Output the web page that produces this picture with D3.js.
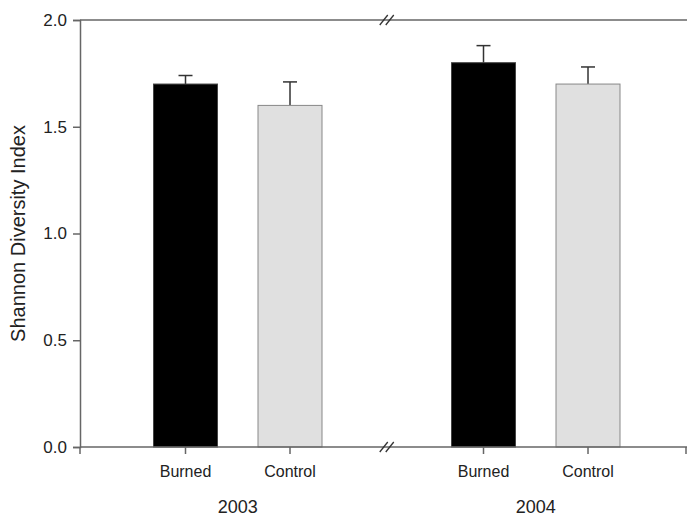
<!DOCTYPE html>
<html>
<head>
<meta charset="utf-8">
<script src="https://cdn.jsdelivr.net/npm/d3@7"></script>
<style>
  body { margin: 0; background: #fff; }
  text { font-family: "Liberation Sans", Arial, sans-serif; fill: #222; }
</style>
</head>
<body>
<svg id="chart" width="687" height="517"></svg>
<script>
const years = ['2003', '2004'];
const treatments = ['Burned', 'Control'];
const means = [[1.70, 1.60], [1.80, 1.70]];
const errors = [[0.04, 0.11], [0.08, 0.08]];
const yTicks = [0, 0.5, 1.0, 1.5, 2.0];

const rows = [];
years.forEach((y, i) => treatments.forEach((t, j) =>
  rows.push({ year: y, treatment: t, mean: means[i][j], err: errors[i][j] })));

const svg = d3.select('#chart');
const plotLeft = 80, plotRight = 687, plotTop = 20, plotBottom = 447;
const axisColor = '#666';

const yScale = d3.scaleLinear().domain([0, 2]).range([plotBottom, plotTop]);

const yearScale = d3.scaleBand().domain(years).range([plotLeft, 676]);
const treatScale = d3.scaleBand().domain(treatments)
  .range([0, yearScale.bandwidth()])
  .paddingInner(0.3876).paddingOuter(0.6196).align(0.5676);

const cx = d => yearScale(d.year) + treatScale(d.treatment) + treatScale.bandwidth() / 2;
const fill = d3.scaleOrdinal().domain(treatments).range(['#000000', '#e0e0e0']);
const stroke = d3.scaleOrdinal().domain(treatments).range(['#444', '#888']);

// error bars (drawn under bars)
const eb = svg.append('g');
eb.selectAll('line.v').data(rows).enter().append('line')
  .attr('x1', cx).attr('x2', cx)
  .attr('y1', d => yScale(d.mean)).attr('y2', d => yScale(d.mean + d.err))
  .attr('stroke', '#333').attr('stroke-width', 1.5);
eb.selectAll('line.c').data(rows).enter().append('line')
  .attr('x1', d => cx(d) - 7).attr('x2', d => cx(d) + 7)
  .attr('y1', d => yScale(d.mean + d.err)).attr('y2', d => yScale(d.mean + d.err))
  .attr('stroke', '#333').attr('stroke-width', 1.5);

// bars
svg.append('g').selectAll('rect').data(rows).enter().append('rect')
  .attr('x', d => yearScale(d.year) + treatScale(d.treatment))
  .attr('width', treatScale.bandwidth())
  .attr('y', d => yScale(d.mean))
  .attr('height', d => plotBottom - yScale(d.mean))
  .attr('fill', d => fill(d.treatment))
  .attr('stroke', d => stroke(d.treatment)).attr('stroke-width', 1);

// y axis
const yAxis = svg.append('g').attr('transform', `translate(${plotLeft},0)`)
  .call(d3.axisLeft(yScale).tickValues(yTicks).tickFormat(d3.format('.1f')).tickSize(7).tickPadding(6));
yAxis.select('.domain').attr('stroke', axisColor).attr('stroke-width', 1.5);
yAxis.selectAll('.tick line').attr('stroke', axisColor).attr('stroke-width', 1.5);
yAxis.selectAll('.tick text').attr('font-size', 17).attr('fill', '#222')
  .attr('font-family', '"Liberation Sans", Arial, sans-serif');

// top and bottom lines
[plotTop, plotBottom].forEach(y => svg.append('line')
  .attr('x1', plotLeft).attr('x2', plotRight).attr('y1', y).attr('y2', y)
  .attr('stroke', axisColor).attr('stroke-width', 1.5));

// bottom ticks
const tickX = [plotLeft].concat(rows.map(cx), [plotRight - 1]);
svg.append('g').selectAll('line').data(tickX).enter().append('line')
  .attr('x1', d => d).attr('x2', d => d).attr('y1', plotBottom).attr('y2', plotBottom + 7)
  .attr('stroke', axisColor).attr('stroke-width', 1.5);

// axis break marks
const c2003 = rows[1], b2004 = rows[2];
const breakX = (yearScale(c2003.year) + treatScale(c2003.treatment) + treatScale.bandwidth()
  + yearScale(b2004.year) + treatScale(b2004.treatment)) / 2;
[plotTop, plotBottom].forEach(y => {
  [-3, 3].forEach(dx => svg.append('line')
    .attr('x1', breakX + dx - 4).attr('x2', breakX + dx + 4)
    .attr('y1', y + 5).attr('y2', y - 5)
    .attr('stroke', '#333').attr('stroke-width', 1.3));
});

// category labels
svg.append('g').selectAll('text').data(rows).enter().append('text')
  .attr('x', cx).attr('y', 477).attr('text-anchor', 'middle')
  .attr('font-size', 16).text(d => d.treatment);

// year labels
svg.append('g').selectAll('text').data(years).enter().append('text')
  .attr('x', y => {
    const r = rows.filter(d => d.year === y);
    return (cx(r[0]) + cx(r[1])) / 2;
  })
  .attr('y', 513).attr('text-anchor', 'middle').attr('font-size', 18).text(y => y);

// y label
svg.append('text')
  .attr('transform', `translate(25,${(plotTop + plotBottom) / 2}) rotate(-90)`)
  .attr('text-anchor', 'middle').attr('font-size', 20)
  .text('Shannon Diversity Index');
</script>
</body>
</html>
